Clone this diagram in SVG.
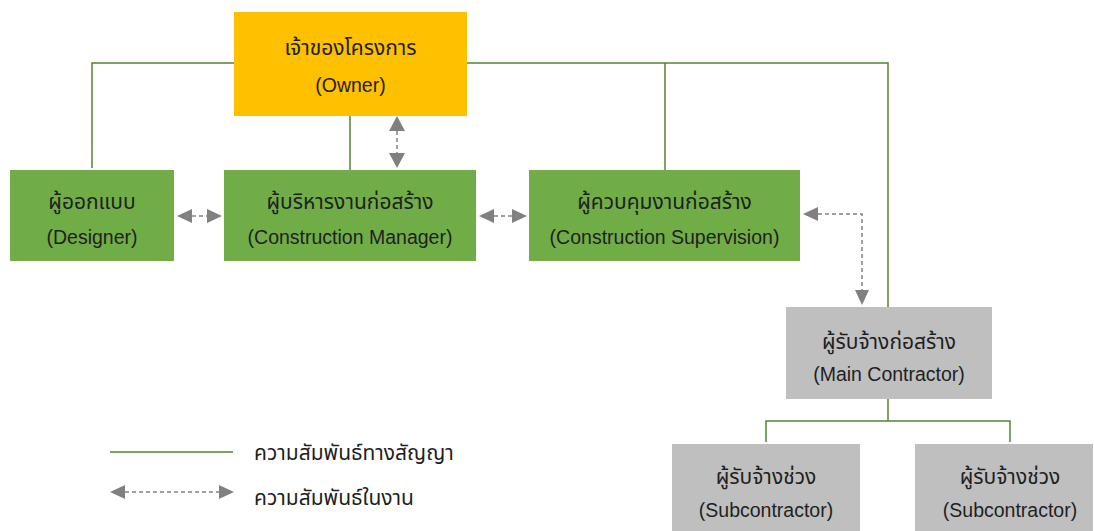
<svg xmlns="http://www.w3.org/2000/svg" width="1094" height="531" viewBox="0 0 1094 531">
<defs>
<style>
.t{font-family:"Liberation Sans","Noto Sans Thai","DejaVu Sans",sans-serif;font-size:19.5px;fill:#1f1f1f;text-anchor:middle;dominant-baseline:central}
.th{font-size:21px}
.lt{font-family:"Liberation Sans","Noto Sans Thai","DejaVu Sans",sans-serif;font-size:21px;fill:#1f1f1f;dominant-baseline:central}
.c{fill:none;stroke:#548235;stroke-width:1.5}
.d{fill:none;stroke:#808080;stroke-width:1.5;stroke-dasharray:4 3}
.ah{fill:#808080}
.owner{fill:#FFC000}
.green{fill:#70AD47}
.grey{fill:#BFBFBF}
</style>
</defs>
<g id="connectors">
<polyline class="c" points="92,168 92,63 234,63"/>
<polyline class="c" points="467,63 888,63 888,307"/>
<line class="c" x1="665" y1="63" x2="665" y2="170"/>
<line class="c" x1="350" y1="116" x2="350" y2="170"/>
<polyline class="c" points="888,399 888,421"/>
<polyline class="c" points="766,442 766,421 1010,421 1010,442"/>
<path class="ah" d="M397,116 L389,131 L405,131 Z M397,168 L389,153 L405,153 Z"/>
<line class="d" x1="397" y1="131" x2="397" y2="153"/>
<path class="ah" d="M177,216 L192,209 L192,223 Z M222,216 L207,209 L207,223 Z"/>
<line class="d" x1="192" y1="216" x2="207" y2="216"/>
<path class="ah" d="M479,216 L494,209 L494,223 Z M527,216 L512,209 L512,223 Z"/>
<line class="d" x1="494" y1="216" x2="512" y2="216"/>
<path class="ah" d="M803,214 L818,207 L818,221 Z M862,305 L855,290 L869,290 Z"/>
<polyline class="d" points="818,214 862,214 862,290"/>
</g>
<g id="owner">
<rect class="owner" x="234" y="12" width="233" height="104"/>
<text class="t th" x="350.5" y="47">เจ้าของโครงการ</text>
<text class="t" x="350.5" y="85">(Owner)</text>
</g>
<g id="designer">
<rect class="green" x="10" y="170" width="164" height="91"/>
<text class="t th" x="92" y="201">ผู้ออกแบบ</text>
<text class="t" x="92" y="237">(Designer)</text>
</g>
<g id="manager">
<rect class="green" x="224" y="170" width="252" height="91"/>
<text class="t th" x="350" y="201">ผู้บริหารงานก่อสร้าง</text>
<text class="t" x="350" y="237">(Construction Manager)</text>
</g>
<g id="supervision">
<rect class="green" x="529" y="170" width="271" height="91"/>
<text class="t th" x="664.5" y="201">ผู้ควบคุมงานก่อสร้าง</text>
<text class="t" x="664.5" y="237">(Construction Supervision)</text>
</g>
<g id="main-contractor">
<rect class="grey" x="786" y="307" width="206" height="92"/>
<text class="t th" x="889" y="341">ผู้รับจ้างก่อสร้าง</text>
<text class="t" x="889" y="374">(Main Contractor)</text>
</g>
<g id="sub1">
<rect class="grey" x="672" y="444" width="188" height="90"/>
<text class="t th" x="766" y="476">ผู้รับจ้างช่วง</text>
<text class="t" x="766" y="510">(Subcontractor)</text>
</g>
<g id="sub2">
<rect class="grey" x="915" y="444" width="178" height="90"/>
<text class="t th" x="1010" y="476">ผู้รับจ้างช่วง</text>
<text class="t" x="1010" y="510">(Subcontractor)</text>
</g>
<g id="legend">
<line class="c" x1="110" y1="452" x2="233" y2="452"/>
<text class="lt" x="254" y="452">ความสัมพันธ์ทางสัญญา</text>
<path class="ah" d="M110,492 L125,485 L125,499 Z M234,492 L219,485 L219,499 Z"/>
<line class="d" x1="125" y1="492" x2="219" y2="492"/>
<text class="lt" x="254" y="497">ความสัมพันธ์ในงาน</text>
</g>
</svg>
